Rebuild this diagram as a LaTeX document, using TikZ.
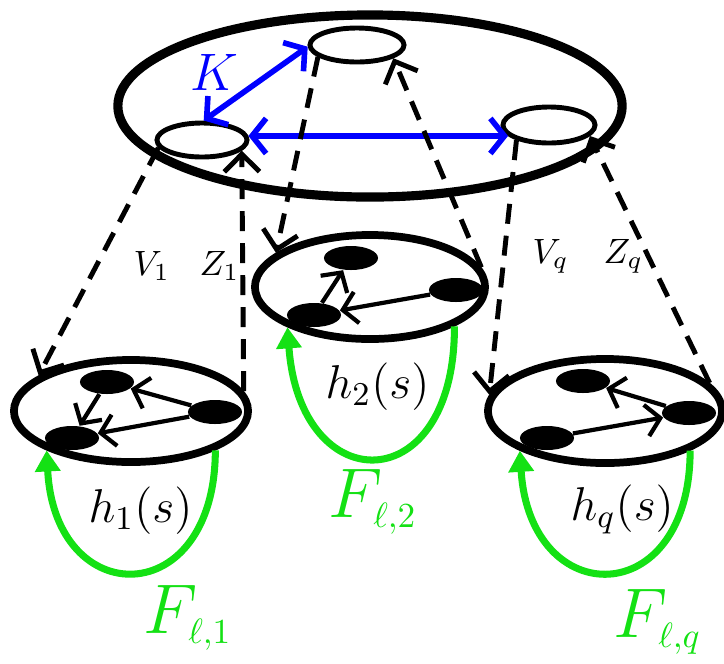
\RequirePackage{fix-cm}
\documentclass[tikz,border=0pt]{standalone}
\usetikzlibrary{arrows.meta, shapes.geometric}
\definecolor{fgreen}{RGB}{20,225,20}

\begin{document}
\begin{tikzpicture}[x=0.01cm, y=-0.01cm,
  oval/.style={ellipse, draw, inner sep=0pt},
  blob/.style={ellipse, fill, inner sep=0pt, minimum width=0.54cm, minimum height=0.24cm},
  lift/.style={line width=1.4pt, dash pattern=on 0.2cm off 0.12cm, -{Straight Barb[length=5pt,width=10pt]}},
  link/.style={line width=1.2pt, -{Straight Barb[length=4pt,width=9pt]}},
  kin/.style={blue, line width=1.6pt, {Straight Barb[length=4pt,width=10pt]}-{Straight Barb[length=4pt,width=10pt]}},
  loop/.style={fgreen, line width=2pt, -{Triangle[length=6pt,width=7pt]}},
  lab/.style={anchor=base west, inner sep=0pt}]
\useasboundingbox (0,0) rectangle (724,663);

% top level
\node[oval, line width=2.6pt, minimum width=5.04cm, minimum height=1.82cm] (world) at (370,106) {};
\node[oval, line width=1.4pt, minimum width=0.9cm, minimum height=0.34cm] (cl) at (202,140) {};
\node[oval, line width=1.4pt, minimum width=0.94cm, minimum height=0.34cm] (cm) at (357,45) {};
\node[oval, line width=1.4pt, minimum width=0.92cm, minimum height=0.36cm] (cr) at (549,125) {};

\draw[kin] (cl.85) -- (cm.182);
\draw[kin] (cl.5) -- (cr.195);
\node[lab, blue, font=\fontsize{15}{17}\selectfont] (k) at (190,90) {$K$};

% lower level
\node[oval, line width=2.2pt, minimum width=2.34cm, minimum height=1.02cm] (gl) at (131,411) {};
\node[oval, line width=2.2pt, minimum width=2.30cm, minimum height=1.04cm] (gm) at (370,287) {};
\node[oval, line width=2.2pt, minimum width=2.34cm, minimum height=1.04cm] (gr) at (605,411) {};

\node[blob] (l1) at (107,382) {};
\node[blob] (l2) at (72,438) {};
\node[blob] (l3) at (215,412) {};
\draw[link] (l1) -- (l2);
\draw[link] (l3) -- (l1);
\draw[link] (l3) -- (l2);

\node[blob] (m1) at (351,258) {};
\node[blob] (m2) at (456,290) {};
\node[blob] (m3) at (314,315) {};
\draw[link] (m3) -- (m1);
\draw[link] (m2) -- (m3);

\node[blob] (r1) at (583,381) {};
\node[blob] (r2) at (689,413) {};
\node[blob] (r3) at (547,438) {};
\draw[link] (r2) -- (r1);
\draw[link] (r3) -- (r2);

% maps between levels
\draw[lift] (cl.190) -- (gl.159);
\draw[lift] (gl.10) -- (cl.-15);
\draw[lift] (cm.197) -- (gm.160);
\draw[lift] (gm.10) -- (cm.-20);
\draw[lift] (cr.205) -- (gr.172);
\draw[lift] (gr.15) -- (cr.-15);

\begin{scope}[font=\fontsize{10}{12}\selectfont]
\node[lab] (v1) at (133,275) {$V_1$};
\node[lab] (z1) at (199,275) {$Z_1$};
\node[lab] (vq) at (532,263) {$V_q$};
\node[lab] (zq) at (603,263) {$Z_q$};
\end{scope}

% feedback loops
\draw[loop] (gl.-25) .. controls (215,612) and (55,612) .. (gl.205);
\draw[loop] (gm.-25) .. controls (455,501) and (300,501) .. (gm.206);
\draw[loop] (gr.-25) .. controls (690,612) and (530,612) .. (gr.205);

\begin{scope}[font=\fontsize{13.5}{16}\selectfont]
\node[lab] (h1) at (88,522) {$h_1(s)$};
\node[lab] (h2) at (325,398) {$h_2(s)$};
\node[lab] (hq) at (570,520) {$h_q(s)$};
\end{scope}

\begin{scope}[font=\fontsize{20}{24}\selectfont, fgreen]
\node[lab] (f1) at (143,633) {$F_{\scriptscriptstyle\ell,1}$};
\node[lab] (f2) at (328,517) {$F_{\scriptscriptstyle\ell,2}$};
\node[lab] (fq) at (613,637) {$F_{\scriptscriptstyle\ell,q}$};
\end{scope}
\end{tikzpicture}
\end{document}
